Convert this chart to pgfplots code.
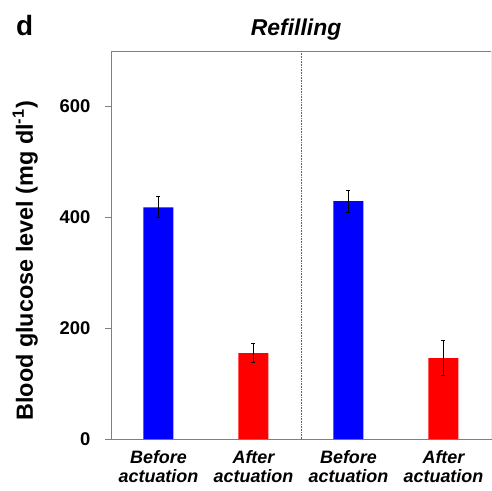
\documentclass[border=0pt]{standalone}
\usepackage{fontspec}
\setmainfont{Liberation Sans}
\setsansfont{Liberation Sans}
\usepackage{pgfplots}
\pgfplotsset{compat=1.18}

\pgfplotstableread{
x y err
0 418 19
2 429 20
}\beforedata
\pgfplotstableread{
x y err
1 155 17.5
3 146 32
}\afterdata

\begin{document}
\begin{tikzpicture}
\useasboundingbox (-111bp,-52bp) rectangle (381bp,439bp);
\begin{axis}[
    width=380bp, height=388bp,
    scale only axis,
    xmin=-0.5, xmax=3.5,
    ymin=0, ymax=700,
    ytick={0,200,400,600},
    xtick={0,1,2,3},
    xticklabels={Before\\actuation, After\\actuation, Before\\actuation, After\\actuation},
    x tick label style={align=center, font=\bfseries\itshape\fontsize{18}{19}\selectfont, yshift=-2bp},
    y tick label style={font=\bfseries\fontsize{18.5}{18.5}\selectfont, xshift=-11bp},
    /pgf/number format/assume math mode=true,
    tick align=outside,
    major tick length=6bp,
    xtick style={draw=none},
    ytick style={gray, line width=0.6pt},
    axis line style={gray, line width=0.7pt},
    ylabel={Blood glucose level (mg dl\textsuperscript{-1})},
    ylabel style={font=\bfseries\fontsize{23.5}{23.5}\selectfont, at={(rel axis cs:-0.226,0.459)}, anchor=center, rotate=0},
    clip=false,
]
\addplot[ybar, bar width=30bp, fill={rgb,255:red,0;green,0;blue,255}, draw=none,
    error bars/.cd, y dir=both, y explicit,
    error bar style={black, line width=0.7pt},
    error mark options={rotate=90, mark size=2bp, black, line width=0.7pt}]
    table[x=x, y=y, y error=err] {\beforedata};
\addplot[ybar, bar width=30bp, fill={rgb,255:red,255;green,0;blue,0}, draw=none,
    error bars/.cd, y dir=both, y explicit,
    error bar style={black, line width=0.7pt},
    error mark options={rotate=90, mark size=2bp, black, line width=0.7pt}]
    table[x=x, y=y, y error=err] {\afterdata};
\draw[black!60, line width=0.6pt, densely dotted] (axis cs:1.5,0) -- (axis cs:1.5,700);
\draw[gray!15, line width=0.8pt] (rel axis cs:1,0) -- (rel axis cs:1,1);
\node[anchor=base, font=\bfseries\itshape\fontsize{23}{23}\selectfont] at (rel axis cs:0.487,1.041) {Refilling};
\node[anchor=base west, font=\bfseries\fontsize{28}{28}\selectfont, inner sep=0pt] at (rel axis cs:-0.25,1.041) {d};
\end{axis}
\end{tikzpicture}
\end{document}
